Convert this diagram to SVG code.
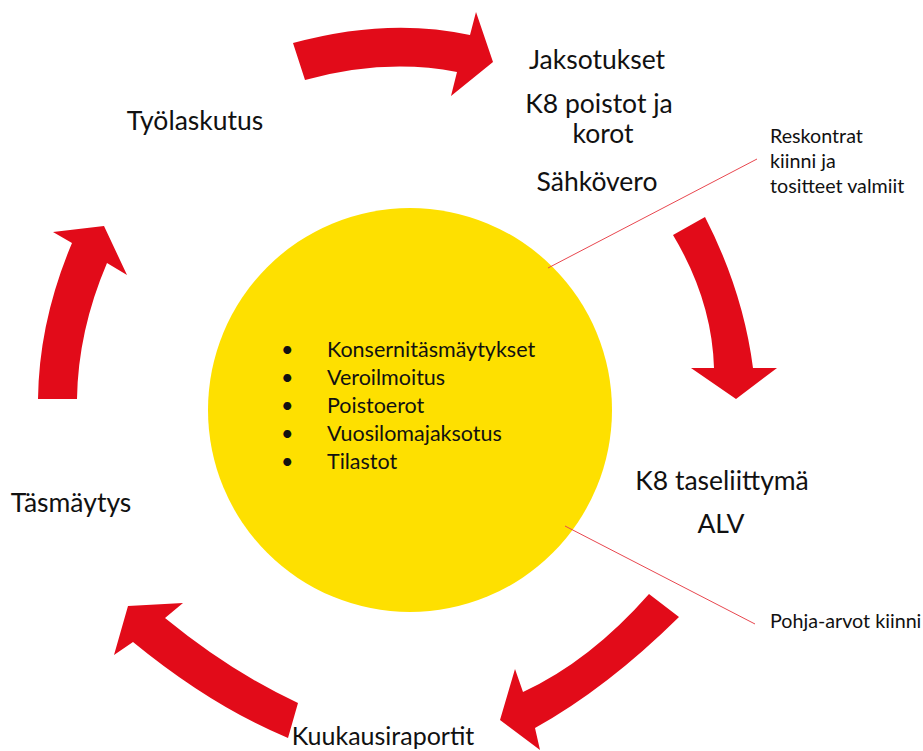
<svg xmlns="http://www.w3.org/2000/svg" width="923" height="751" viewBox="0 0 923 751">
<style>
.arrow{fill:#E20B19;}
.lbl{font-family:Lato,"Open Sans","Liberation Sans",sans-serif;font-size:26.5px;fill:#111;text-anchor:middle;}
.small{font-family:Lato,"Open Sans","Liberation Sans",sans-serif;font-size:19.7px;fill:#111;}
.bul{font-family:Lato,"Open Sans","Liberation Sans",sans-serif;font-size:21.5px;fill:#111;}
.lead{stroke:#E8474F;stroke-width:1;fill:none;}
</style>
<rect width="923" height="751" fill="#fff"/>
<g id="center">
<circle cx="410" cy="410" r="202" fill="#FEE000"/>
<text class="bul" x="281" y="357">•</text><text class="bul" x="327" y="357">Konsernitäsmäytykset</text>
<text class="bul" x="281" y="385">•</text><text class="bul" x="327" y="385">Veroilmoitus</text>
<text class="bul" x="281" y="413">•</text><text class="bul" x="327" y="413">Poistoerot</text>
<text class="bul" x="281" y="441">•</text><text class="bul" x="327" y="441">Vuosilomajaksotus</text>
<text class="bul" x="281" y="469">•</text><text class="bul" x="327" y="469">Tilastot</text>
</g>
<g id="connectors">
<path class="arrow" d="M293,43 Q388,17 470,35 L476,12 L493,62 L451,96 L457,72 Q385,58 305,80 Z"/>
<path class="arrow" d="M673,235 L705,217 Q743,291 753,368 L777,368 L736,399 L691,368 L714,368 Q712,300 673,235 Z"/>
<path class="arrow" d="M649,594 Q590,661 523,692 L515,669 L500,720 L540,750 L535,728 Q607,688 679,617 Z"/>
<path class="arrow" d="M298,703 Q231,672 165,618 L183,603 L128,606 L114,655 L133,642 Q211,706 288,738 Z"/>
<path class="arrow" d="M38,399 Q39,321 72,243 L53,232 L104,226 L127,275 L107,263 Q78,331 77,399 Z"/>
<line class="lead" x1="548" y1="268" x2="757" y2="159"/>
<line class="lead" x1="565" y1="526" x2="755" y2="624"/>
</g>
<g id="top-right">
<text class="lbl" x="597" y="69">Jaksotukset</text>
<text class="lbl" x="599" y="113">K8 poistot ja</text>
<text class="lbl" x="603" y="143">korot</text>
<text class="lbl" x="597" y="191">Sähkövero</text>
</g>
<g id="tyolaskutus"><text class="lbl" x="195" y="130">Työlaskutus</text></g>
<g id="tasmaytys"><text class="lbl" x="71" y="512">Täsmäytys</text></g>
<g id="right"><text class="lbl" x="722" y="490">K8 taseliittymä</text>
<text class="lbl" x="721" y="533">ALV</text></g>
<g id="kuukausiraportit"><text class="lbl" x="383" y="745" style="font-size:25px">Kuukausiraportit</text></g>
<g id="reskontrat">
<text class="small" x="770" y="143">Reskontrat</text>
<text class="small" x="770" y="168">kiinni ja</text>
<text class="small" x="770" y="193">tositteet valmiit</text>
</g>
<g id="pohja"><text class="small" x="770" y="628">Pohja-arvot kiinni</text></g>
</svg>
